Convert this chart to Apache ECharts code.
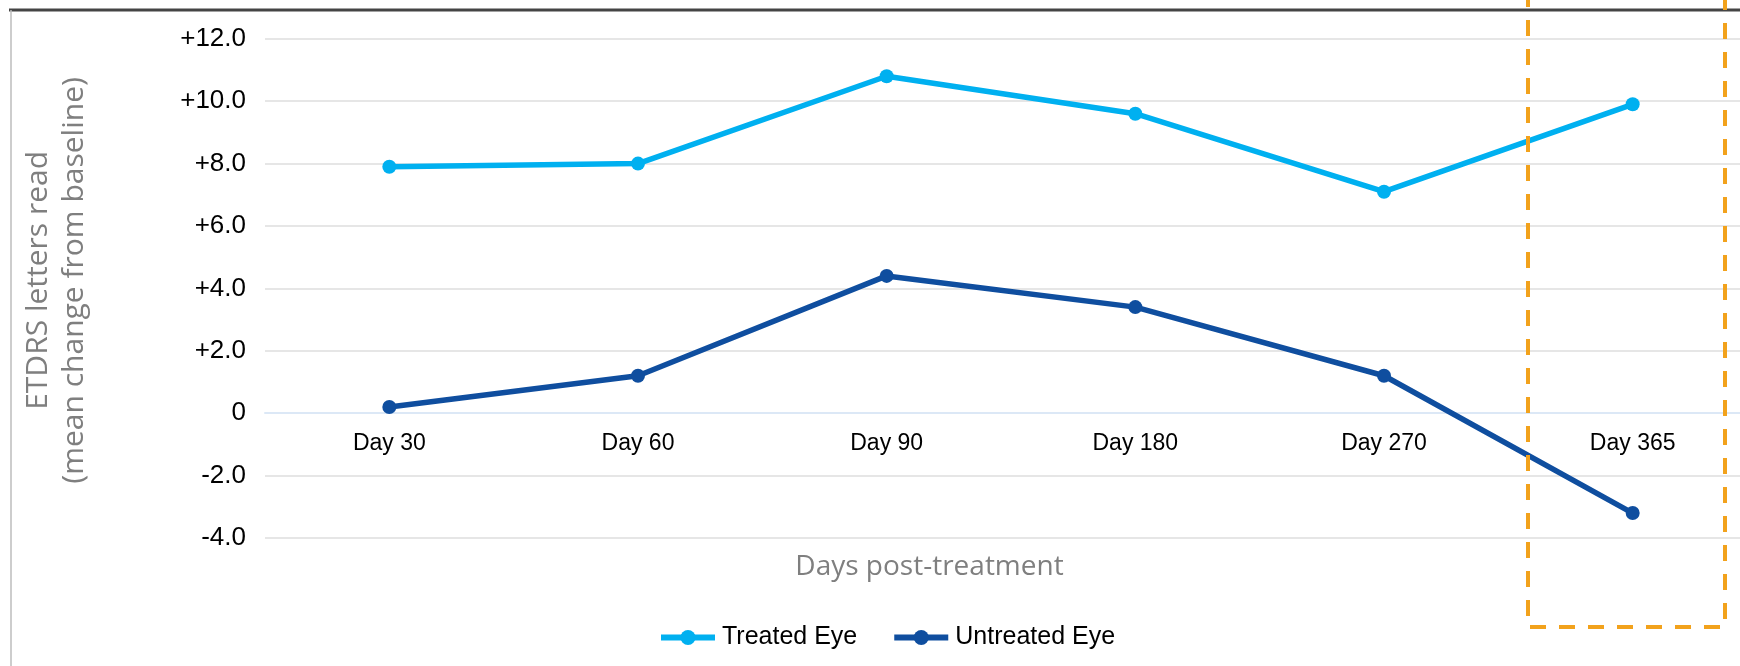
<!DOCTYPE html>
<html>
<head>
<meta charset="utf-8">
<script src="https://cdn.jsdelivr.net/npm/echarts@6/dist/echarts.min.js"></script>
<style>
html,body{margin:0;padding:0;background:#fff;}
#chart{width:1740px;height:666px;}
</style>
</head>
<body>
<div id="chart"></div>
<script>
const categories = ['Day 30', 'Day 60', 'Day 90', 'Day 180', 'Day 270', 'Day 365'];
const treatedEye = [7.9, 8.0, 10.8, 9.6, 7.1, 9.9];
const untreatedEye = [0.2, 1.2, 4.4, 3.4, 1.2, -3.2];
const seriesNames = ['Treated Eye', 'Untreated Eye'];
const seriesColors = ['#00B0F0', '#0F4E9F'];
const yTicks = [-4, -2, 0, 2, 4, 6, 8, 10, 12];
const yAxisTitle = 'ETDRS letters read\n(mean change from baseline)';
const xAxisTitle = 'Days post-treatment';

function fmtTick(v) {
  if (v === 0) return '0';
  return (v > 0 ? '+' : '') + v.toFixed(1);
}

const gridTop = 38.8, gridHeight = 499.2;
const yMin = yTicks[0], yMax = yTicks[yTicks.length - 1];
// move the category axis up to the zero line
const zeroOffset = -gridHeight * (0 - yMin) / (yMax - yMin);

const chart = echarts.init(document.getElementById('chart'), null, {renderer: 'canvas'});
chart.setOption({
  animation: false,
  backgroundColor: '#ffffff',
  grid: {left: 265, top: gridTop, width: 1492, height: gridHeight, containLabel: false, outerBoundsMode: 'none'},
  legend: {
    left: 653, top: 620,
    itemWidth: 54, itemHeight: 19, itemGap: 34,
    textStyle: {fontFamily: 'Liberation Sans, Arial', fontSize: 25, color: '#000', padding: [0,0,0,2]},
    data: seriesNames.map((n, i) => ({name: n, lineStyle: {width: 6, color: seriesColors[i]}, itemStyle: {color: seriesColors[i]}}))
  },
  xAxis: {
    type: 'category',
    data: categories,
    boundaryGap: true,
    position: 'bottom',
    offset: zeroOffset,
    axisLine: {onZero: false, lineStyle: {color: '#DCE8F6', width: 2}},
    axisTick: {show: false},
    axisLabel: {fontFamily: 'Liberation Sans, Arial', fontSize: 23, color: '#000', margin: 19},
    splitLine: {show: false},
    name: xAxisTitle,
    nameLocation: 'middle',
    nameGap: 140,
    nameTextStyle: {fontFamily: 'Open Sans', fontSize: 28, color: '#7F7F7F', padding: [0, 163, 0, 0]}
  },
  yAxis: {
    type: 'value',
    min: yMin, max: yMax, interval: 2,
    axisLine: {show: false},
    axisTick: {show: false},
    axisLabel: {fontFamily: 'Liberation Sans, Arial', fontSize: 26, color: '#000', margin: 19, formatter: fmtTick},
    splitLine: {lineStyle: {color: '#E6E6E6', width: 2}},
    name: yAxisTitle,
    nameLocation: 'middle',
    nameGap: 173,
    nameRotate: 90,
    nameTextStyle: {fontFamily: 'Open Sans', fontSize: 30, color: '#7F7F7F', lineHeight: 36, align: 'center', padding: [0, 0, 0, 16]}
  },
  series: [
    {
      name: seriesNames[0], type: 'line', data: treatedEye,
      symbol: 'circle', symbolSize: 14,
      lineStyle: {color: seriesColors[0], width: 5.5},
      itemStyle: {color: seriesColors[0]},
      z: 3
    },
    {
      name: seriesNames[1], type: 'line', data: untreatedEye,
      symbol: 'circle', symbolSize: 14,
      lineStyle: {color: seriesColors[1], width: 5.5},
      itemStyle: {color: seriesColors[1]},
      z: 3
    }
  ],
  graphic: [
    {type: 'line', z: 50, shape: {x1: 9, y1: 10, x2: 1740, y2: 10}, style: {stroke: '#444444', lineWidth: 3}},
    {type: 'line', z: 50, shape: {x1: 11, y1: 10, x2: 11, y2: 666}, style: {stroke: '#BDBDBD', lineWidth: 1.5}},
    {type: 'rect', z: 100, shape: {x: 1528, y: -12, width: 197, height: 639}, style: {fill: 'none', stroke: '#F2A21C', lineWidth: 4, lineDash: [16, 13]}}
  ]
});
</script>
</body>
</html>
